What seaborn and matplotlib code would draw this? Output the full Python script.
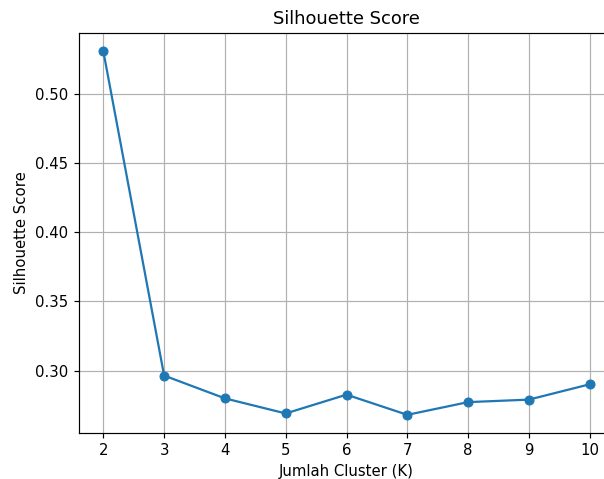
import matplotlib
matplotlib.use("Agg")
import matplotlib.pyplot as plt
import seaborn as sns
import pandas as pd

# Silhouette score for each number of clusters
k_values = [2, 3, 4, 5, 6, 7, 8, 9, 10]
silhouette = [0.531, 0.2964, 0.2799, 0.2690, 0.2826, 0.2680, 0.2772, 0.2790, 0.2901]

df = pd.DataFrame({"k": k_values, "score": silhouette})

DPI = 107
fig = plt.figure(figsize=(604 / DPI, 479 / DPI), dpi=DPI)
ax = fig.add_axes([0.1308, 0.0960, 0.8858, 0.8351])

sns.lineplot(data=df, x="k", y="score", marker="o", color="#1f77b4",
             markersize=6, markeredgecolor="#1f77b4", linewidth=1.5, ax=ax)

ax.set_xticks(k_values)
ax.set_title("Silhouette Score", fontsize=12)
ax.set_xlabel("Jumlah Cluster (K)", fontsize=10)
ax.set_ylabel("Silhouette Score", fontsize=10)
ax.tick_params(labelsize=10)
ax.grid(True)

fig.savefig("out.png", dpi=DPI)
